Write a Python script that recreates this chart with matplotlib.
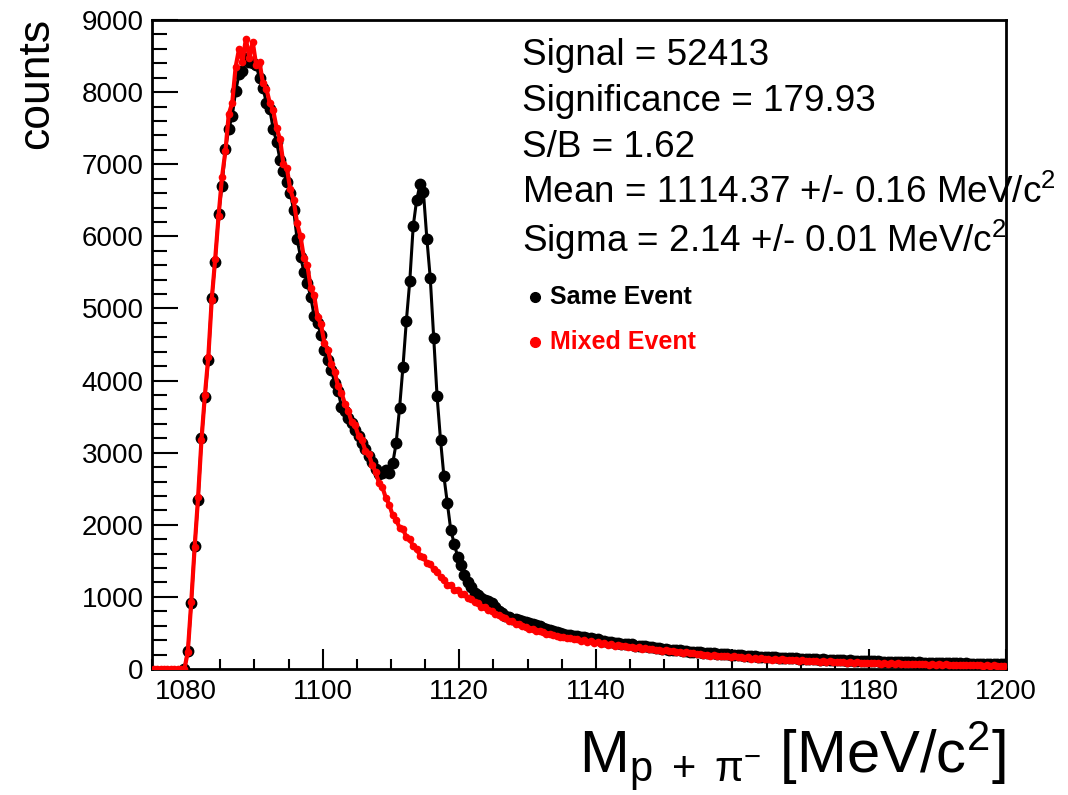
import matplotlib
matplotlib.use("Agg")
import matplotlib.pyplot as plt
import numpy as np

plt.rcParams['font.family'] = ['Liberation Sans', 'DejaVu Sans']
plt.rcParams['mathtext.fontset'] = 'custom'
plt.rcParams['mathtext.rm'] = 'Liberation Sans'
plt.rcParams['mathtext.it'] = 'Liberation Sans:italic'

# bin centres, 0.5 MeV bins from 1075 to 1200
bin_centers = np.arange(1075.25, 1200.0, 0.5)

# mixed event (red), all 250 bins
mixed_counts = [
    0, 0, 0, 0, 0, 0, 0, 0, 0, 0,
    240, 930, 1690, 2380, 3180, 3800, 4330, 5120, 5680, 6280,
    6820, 7180, 7700, 7850, 8350, 8600, 8420, 8740, 8480, 8700,
    8380, 8420, 8120, 8050, 7850, 7750, 7500, 7350, 7000, 6950,
    6650, 6500, 6180, 6000, 5700, 5600, 5280, 5180, 4880, 4780,
    4520, 4430, 4230, 4120, 3920, 3830, 3680, 3580, 3420, 3380,
    3230, 3170, 3030, 2980, 2830, 2730, 2580, 2520, 2370, 2280,
    2130, 2070, 1960, 1940, 1830, 1800, 1700, 1670, 1570, 1550,
    1470, 1450, 1380, 1350, 1280, 1240, 1170, 1160, 1100, 1090,
    1040, 1035, 985, 975, 935, 915, 865, 860, 815, 805,
    760, 750, 720, 710, 670, 660, 630, 620, 590, 585,
    560, 550, 530, 520, 510, 490, 480, 470, 460, 450,
    445, 425, 430, 410, 415, 395, 400, 375, 385, 365,
    370, 350, 355, 335, 345, 325, 335, 315, 320, 305,
    305, 295, 300, 280, 290, 275, 280, 265, 270, 255,
    260, 245, 250, 235, 240, 225, 230, 215, 220, 205,
    210, 195, 200, 185, 195, 180, 185, 175, 180, 165,
    175, 160, 165, 155, 160, 145, 155, 140, 150, 135,
    145, 130, 140, 125, 135, 120, 130, 118, 125, 112,
    120, 108, 115, 104, 112, 100, 108, 97, 104, 95,
    100, 92, 97, 88, 95, 86, 92, 83, 90, 80,
    88, 78, 85, 76, 82, 74, 80, 72, 78, 70,
    75, 68, 73, 66, 71, 64, 69, 62, 67, 60,
    65, 58, 63, 56, 61, 55, 59, 53, 57, 51,
    55, 49, 54, 47, 52, 46, 50, 45, 48, 44,
]

# same event (black), starts at bin 1079.75
same_counts = [
    0,
    250, 910, 1710, 2340, 3200, 3770, 4290, 5150, 5650, 6310,
    6700, 7210, 7490, 7670, 8010, 8250, 8300, 8480, 8420, 8400,
    8380, 8190, 8060, 7850, 7760, 7490, 7310, 7060, 6910, 6760,
    6600, 6360, 5960, 5720, 5510, 5350, 5160, 4890, 4800, 4630,
    4420, 4290, 4150, 3970, 3850, 3640, 3580, 3480, 3410, 3320,
    3230, 3140, 3050, 2950, 2870, 2780, 2700, 2720, 2760, 2720,
    2850, 3130, 3615, 4190, 4830, 5380, 6140, 6500, 6720, 6610,
    5970, 5420, 4590, 3780, 3180, 2670, 2300, 1930, 1740, 1560,
    1440, 1300, 1210, 1140, 1060, 1020, 990, 960, 940, 920,
    860, 810, 770, 740, 720, 700, 690, 680, 670, 650,
    640, 630, 610, 590, 570, 550, 540, 520, 510, 500,
    490, 475, 470, 455, 455, 445, 445, 430, 430, 415,
    410, 395, 395, 380, 380, 365, 365, 350, 350, 340,
    340, 325, 325, 315, 315, 300, 300, 290, 290, 280,
    280, 270, 270, 260, 262, 250, 252, 240, 242, 232,
    232, 224, 226, 216, 218, 208, 210, 202, 204, 196,
    196, 188, 190, 182, 184, 176, 178, 170, 172, 165,
    167, 160, 162, 155, 157, 150, 152, 146, 148, 142,
    144, 138, 140, 134, 136, 130, 132, 126, 128, 123,
    124, 119, 121, 116, 118, 113, 115, 110, 112, 107,
    109, 104, 106, 101, 103, 98, 100, 96, 98, 94,
    95, 91, 93, 89, 91, 87, 89, 85, 87, 83,
    84, 80, 82, 78, 80, 77, 79, 75, 77, 73,
    74, 71, 73, 69, 71, 68, 70, 66, 68, 65,
]

stats_lines = [
    "Signal = 52413",
    "Significance = 179.93",
    "S/B = 1.62",
    r"Mean = 1114.37 +/- 0.16 MeV/c$^{\mathregular{2}}$",
    r"Sigma = 2.14 +/- 0.01 MeV/c$^{\mathregular{2}}$",
]

fig = plt.figure(figsize=(10.68, 7.95), dpi=100)
ax = fig.add_axes([0.1423, 0.1585, 0.7993, 0.8163])

ax.plot(bin_centers[9:], same_counts, color='black', lw=2.2,
        marker='o', ms=7.5, zorder=2)
ax.plot(bin_centers, mixed_counts, color='red', lw=3,
        marker='o', ms=4.5, zorder=3)

ax.set_xlim(1075, 1200)
ax.set_ylim(0, 9000)
ax.set_xticks(np.arange(1080, 1201, 20))
ax.set_xticks(np.arange(1075, 1201, 5), minor=True)
ax.set_yticks(np.arange(0, 9001, 1000))
ax.set_yticks(np.arange(0, 9001, 200), minor=True)

ax.tick_params(axis='x', which='major', direction='in', length=14.5, width=1.5,
               labelsize=20, pad=7, top=False)
ax.tick_params(axis='x', which='minor', direction='in', length=7.5, width=1.5, top=False)
ax.tick_params(axis='y', which='major', direction='in', length=19, width=1.5,
               labelsize=20, pad=6, right=False)
ax.tick_params(axis='y', which='minor', direction='in', length=11, width=1.5, right=False)
for s in ax.spines.values():
    s.set_linewidth(2)

# statistics box
ys = [0.946, 0.875, 0.804, 0.733, 0.661]
for txt, yy in zip(stats_lines, ys):
    ax.text(0.4335, yy, txt, transform=ax.transAxes, fontsize=26.6,
            ha='left', va='center', clip_on=False)

# legend
ax.plot([0.4487], [0.573], 'o', color='black', ms=7, transform=ax.transAxes, clip_on=False)
ax.text(0.466, 0.573, "Same Event", transform=ax.transAxes, fontsize=18,
        fontweight='bold', color='black', va='center')
ax.plot([0.4487], [0.504], 'o', color='red', ms=7, transform=ax.transAxes, clip_on=False)
ax.text(0.466, 0.504, "Mixed Event", transform=ax.transAxes, fontsize=18,
        fontweight='bold', color='red', va='center')

fig.text(37 / 1068, 1 - 18 / 795, "counts", rotation=90, fontsize=32,
         ha='center', va='top')
fig.text(1005 / 1068, 1 - 773 / 795,
         r"M$_{\mathregular{p\ +\ \pi^{-}}}$ [MeV/c$^{\mathregular{2}}$]",
         fontsize=43, ha='right', va='baseline')

fig.savefig("out.png", dpi=100)
